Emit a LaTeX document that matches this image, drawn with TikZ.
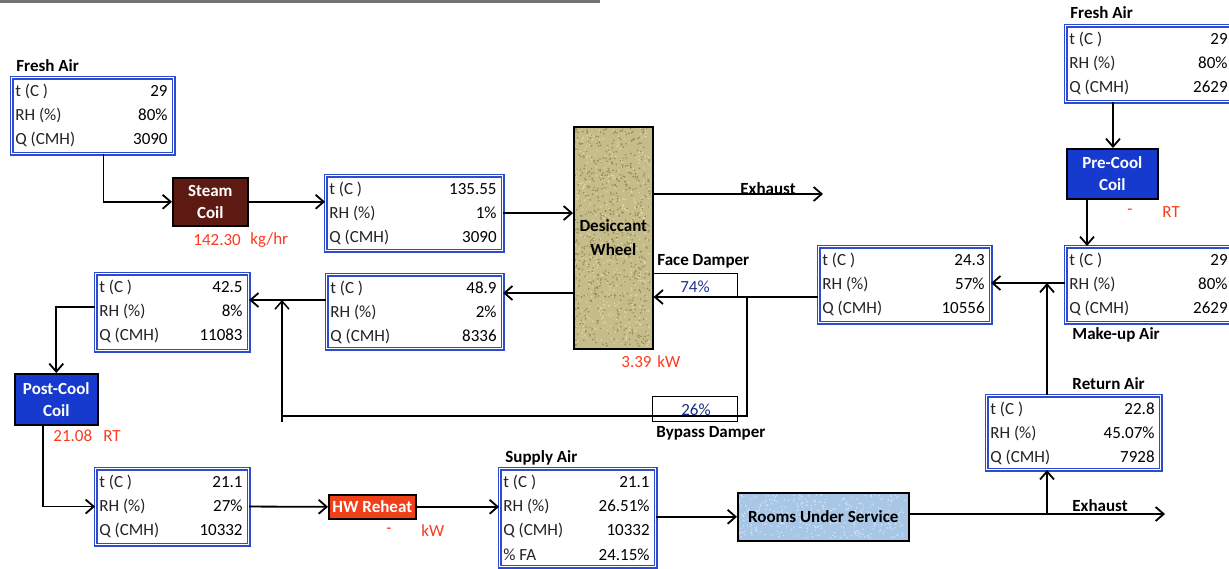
\documentclass[tikz,border=0pt]{standalone}
\usepackage{fontspec}
\setmainfont{Carlito}
\usetikzlibrary{arrows.meta,calc}
\definecolor{boxblue}{RGB}{45,75,205}
\definecolor{redlab}{RGB}{250,60,30}
\definecolor{steamfill}{RGB}{92,26,18}
\definecolor{coilblue}{RGB}{22,58,205}
\definecolor{hwfill}{RGB}{240,64,26}
\definecolor{wheelfill}{RGB}{198,188,138}
\definecolor{wheeldot}{RGB}{150,140,85}
\definecolor{wheellight}{RGB}{225,218,180}
\definecolor{roomfill}{RGB}{168,198,230}
\definecolor{roomlight}{RGB}{215,230,245}
\definecolor{txt}{RGB}{35,35,40}
\newcommand\rowfont{\fontsize{8.5}{10}\selectfont}
\newcommand\labfont{\fontsize{8.5}{10}\selectfont\bfseries}
\newcommand\dbox[8]{%
  \node[dbox, minimum width={(#4-#2)*0.5pt}, minimum height={(#5-#3)*0.5pt}, anchor=north west] (#1) at (#2,#3) {};
  \node[rowl] (#1-l1) at ({#2+4},{#3+14}) {t (C )};
  \node[rowl] (#1-l2) at ({#2+4},{#3+38}) {RH (\%)};
  \node[rowl] (#1-l3) at ({#2+4},{#3+62}) {Q (CMH)};
  \node[rowv] (#1-v1) at ({#4-5},{#3+14}) {#6};
  \node[rowv] (#1-v2) at ({#4-5},{#3+38}) {#7};
  \node[rowv] (#1-v3) at ({#4-5},{#3+62}) {#8};
}
\begin{document}
\begin{tikzpicture}[x=0.5pt,y=-0.5pt,
  dbox/.style={draw=boxblue, double=white, double distance=0.9pt, line width=0.55pt, inner sep=0pt},
  rowl/.style={anchor=west, inner sep=0pt, font=\rowfont, text=txt},
  rowv/.style={anchor=east, inner sep=0pt, font=\rowfont, text=black},
  coil/.style={draw=black, line width=0.8pt, text=white, font=\labfont, align=center, inner sep=0pt, anchor=north west},
  lab/.style={anchor=west, inner sep=0pt, font=\labfont, text=black},
  red/.style={anchor=west, inner sep=0pt, font=\rowfont, text=redlab},
  damp/.style={draw=black, line width=0.7pt, inner sep=0pt, anchor=north west},
  arr/.style={-{Straight Barb[length=4pt,width=7pt]}, line width=0.9pt},
  ln/.style={line width=0.9pt}]
\useasboundingbox (0,0) rectangle (1229,568);
\fill[white] (0,0) rectangle (1229,568);
\clip (0,0) rectangle (1229,568);
\fill[black!55] (0,0) rectangle (600,2.5);

% textured fills
\fill[wheelfill] (573,126) rectangle (652,348);
\fill[roomfill] (737,492) rectangle (908,540);
\pgfmathsetseed{11}
\foreach \i in {1,...,700}{
  \pgfmathsetmacro\px{575+75*rnd}
  \pgfmathsetmacro\py{128+218*rnd}
  \fill[wheeldot] (\px,\py) circle (0.45pt);
}
\foreach \i in {1,...,500}{
  \pgfmathsetmacro\px{575+75*rnd}
  \pgfmathsetmacro\py{128+218*rnd}
  \fill[wheellight] (\px,\py) circle (0.4pt);
}
\foreach \i in {1,...,350}{
  \pgfmathsetmacro\px{739+167*rnd}
  \pgfmathsetmacro\py{494+44*rnd}
  \fill[roomlight] (\px,\py) circle (0.4pt);
}

% data boxes
\dbox{faL}{11}{77}{173}{153}{29}{80\%}{3090}
\dbox{b2}{325}{175}{502}{250}{135.55}{1\%}{3090}
\dbox{b8336}{326}{274}{502}{348}{48.9}{2\%}{8336}
\dbox{b425}{95}{273}{248}{350}{42.5}{8\%}{11083}
\dbox{b211}{95}{468}{248}{544}{21.1}{27\%}{10332}
\dbox{ret}{986}{395}{1160}{469}{22.8}{45.07\%}{7928}
\dbox{b10556}{818}{246}{990}{322}{24.3}{57\%}{10556}
\dbox{makeup}{1065}{246}{1233}{322}{29}{80\%}{2629}
\dbox{faR}{1065}{25}{1233}{101}{29}{80\%}{2629}
\dbox{supply}{499}{468}{655}{566}{21.1}{26.51\%}{10332}
\node[rowl] (supply-l4) at (503,555) {\% FA};
\node[rowv] (supply-v4) at (650,555) {24.15\%};

% equipment
\node[coil, fill=steamfill, minimum width=37.5pt, minimum height=24pt] (steam) at (172,177) {Steam\\[1pt]Coil};
\node[coil, fill=coilblue, minimum width=41.5pt, minimum height=25.5pt] (post) at (14,373) {Post-Cool\\[1pt]Coil};
\node[coil, fill=coilblue, minimum width=45.5pt, minimum height=25pt] (pre) at (1066,148) {Pre-Cool\\[1pt]Coil};
\node[coil, fill=hwfill, minimum width=43.5pt, minimum height=12pt] (hw) at (328,494) {HW Reheat};
\node[draw=black, line width=0.8pt, anchor=north west, minimum width=39.5pt, minimum height=111pt, inner sep=0pt, font=\labfont, align=center] (wheel) at (573,126) {Desiccant\\[2pt]Wheel};
\node[draw=black, line width=0.8pt, anchor=north west, minimum width=85.5pt, minimum height=24pt, inner sep=0pt, font=\labfont] (rooms) at (737,492) {Rooms Under Service};
\node[damp, minimum width=42.5pt, minimum height=12pt] (face) at (652,273) {};
\node[inner sep=0pt, font=\rowfont, text=boxblue!70!black] (facet) at (695,287) {74\%};
\node[damp, minimum width=42.5pt, minimum height=12.5pt] (byp) at (652,396) {};
\node[inner sep=0pt, font=\rowfont, text=boxblue!60!black] (bypt) at (696,410) {26\%};

% labels
\node[lab] (lfaL) at (16,66) {Fresh Air};
\node[lab] (lfaR) at (1070,13) {Fresh Air};
\node[lab] (lmk) at (1072,335) {Make-up Air};
\node[lab] (lret) at (1072,384) {Return Air};
\node[lab] (lsup) at (505,458) {Supply Air};
\node[lab] (lface) at (657,261) {Face Damper};
\node[lab] (lbyp) at (656,433) {Bypass Damper};
\node[lab] (lex1) at (740,189) {Exhaust};
\node[lab] (lex2) at (1072,506) {Exhaust};
\node[red] (r1) at (193,240) {142.30};
\node[red] (r2) at (250,240) {kg/hr};
\node[red] (r3) at (621,362) {3.39};
\node[red] (r4) at (657,362) {kW};
\node[red] (r5) at (53,436) {21.08};
\node[red] (r6) at (103,436) {RT};
\node[red] (r7) at (386,531) {-};
\node[red] (r8) at (421,531) {kW};
\node[red] (r9) at (1127,212) {-};
\node[red] (r10) at (1162,212) {RT};

% junction coordinates
\coordinate (exh1) at (823,194);
\coordinate (fd) at (747,297);
\coordinate (bpc) at (747,416);
\coordinate (bp) at (282,300);
\coordinate (c1) at (55,307);
\coordinate (exh2) at (1165,514);
\coordinate (j2) at (1047,514);
\coordinate (j3) at (1047,283);
\coordinate (c4) at (1087,0);
\coordinate (c5) at (1113,0);
\coordinate (c6) at (0,293);

% connectors
\draw[arr] ([xshift=5.5pt]faL.south) |- (steam.west);
\draw[arr] (steam.east) -- (steam.east -| b2.west);
\draw[arr] (b2.east) -- (b2.east -| wheel.west);
\draw[arr] (exh1 -| wheel.east) -- (exh1);
\draw[arr] (b10556.west |- fd) -- (wheel.east |- fd);
\draw[ln, line width=0.75pt] (fd) -- (bpc) -| (bp);
\draw[arr, line width=0.75pt] (bp |- byp.south) -- (bp);
\draw[arr] (wheel.west |- c6) -- (b8336.east |- c6);
\draw[arr] (b8336.west |- bp) -- (b425.east |- bp);
\draw[arr] (b425.west |- c1) -| (post.north);
\draw[arr] ([xshift=-6.75pt]post.south) |- (b211.west);
\draw[arr] (b211.east) -- (hw.west);
\draw[arr] (hw.east) -- (hw.east -| supply.west);
\draw[arr] (rooms.west -| supply.east) -- (rooms.west);
\draw[arr] (rooms.east |- exh2) -- (exh2);
\draw[arr] (j2) -- (j2 |- ret.south);
\draw[arr] (j3 |- ret.north) -- (j3);
\draw[arr] (makeup.west |- j3) -- (b10556.east |- j3);
\draw[arr] (pre.south -| c4) -- (makeup.north -| c4);
\draw[arr] (faR.south -| c5) -- (pre.north -| c5);
\end{tikzpicture}
\end{document}
